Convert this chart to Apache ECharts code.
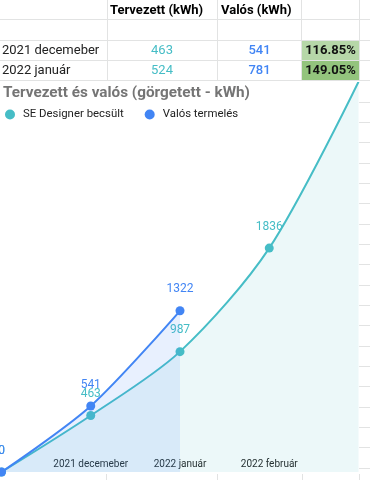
<!DOCTYPE html>
<html><head><meta charset="utf-8">
<script src="https://cdn.jsdelivr.net/npm/echarts@6/dist/echarts.min.js"></script>
<style>html,body{margin:0;padding:0;background:#fff}#c{width:370px;height:480px}</style>
</head><body><div id="c"></div>
<script>
// ---- chart data ----
const categories = ['', '2021 decemeber', '2022 január', '2022 február', '2022 március'];
const plannedCumulative = [0, 463, 987, 1836, 3200];
const actualCumulative = [0, 541, 1322];
const seriesNames = ['SE Designer becsült', 'Valós termelés'];
const chartTitle = 'Tervezett és valós (görgetett - kWh)';

// ---- table data ----
const tableHeaders = ['Tervezett (kWh)', 'Valós (kWh)'];
const tableRows = ['2021 decemeber', '2022 január'];
const tablePlanned = [463, 524];
const tableActual = [541, 781];
const tableRatio = ['116.85%', '149.05%'];

const CYAN = '#46bdc6', BLUE = '#4285f4', GRIDC = '#e2e3e3';
const FONT = 'Roboto';

const g = [];
function line(x1, y1, x2, y2) {
  g.push({type: 'line', z: 100, silent: true, shape: {x1, y1, x2, y2}, style: {stroke: GRIDC, lineWidth: 1}});
}
function text(t, x, y, fill, weight, align) {
  g.push({type: 'text', z: 102, silent: true, style: {text: String(t), x, y, fill, font: (weight || 'normal') + ' 13px ' + FONT,
    align: align || 'left', textAlign: align || 'left', verticalAlign: 'middle', textVerticalAlign: 'middle'}});
}
// table backgrounds
const ratioBg = ['#b6d7a8', '#93c47d'];
const rowTop = [41, 61];
tableRows.forEach((r, i) => {
  g.push({type: 'rect', z: 99, silent: true, shape: {x: 302, y: rowTop[i], width: 57, height: 20}, style: {fill: ratioBg[i]}});
});
// table grid lines
[19.5, 40.5, 60.5, 80.5].forEach(y => line(0, y, 370, y));
[107.5, 217.5, 301.5, 359.5].forEach(x => line(x, 0, x, 81));
// spreadsheet lines outside chart
for (let y = 101.5; y < 480; y += 20.35) line(359, Math.round(y) + 0.5, 370, Math.round(y) + 0.5);
[106.5, 217.5, 302.5, 359.5].forEach(x => line(x, 474, x, 480));
// headers
text(tableHeaders[0], 110, 11, '#000', 'bold');
text(tableHeaders[1], 221, 11, '#000', 'bold');
tableRows.forEach((r, i) => {
  const cy = rowTop[i] + 10;
  text(r, 2, cy, '#222');
  text(tablePlanned[i], 162, cy, CYAN, 'normal', 'center');
  text(tableActual[i], 259.5, cy, BLUE, '500', 'center');
  text(tableRatio[i], 330.5, cy, '#111', 'bold', 'center');
});

const chart = echarts.init(document.getElementById('c'));
const labelCommon = {show: true, position: 'top', distance: 11, fontSize: 12, fontFamily: FONT};
const lastIdx = categories.length - 1;
chart.setOption({
  animation: false,
  textStyle: {fontFamily: FONT},
  title: {text: chartTitle, left: 3, top: 86, padding: 0,
    textStyle: {fontSize: 15.3, fontWeight: 'bold', color: '#757575', fontFamily: FONT}},
  legend: {left: 5, top: 109, padding: 0, icon: 'circle', itemWidth: 10, itemHeight: 10, itemGap: 21,
    textStyle: {fontSize: 11.4, color: '#222', fontFamily: FONT, padding: [0, 0, 0, 3]},
    data: seriesNames},
  grid: {left: 1.5, right: 11.5, top: 83, bottom: 8, containLabel: false, outerBoundsMode: 'none'},
  xAxis: {type: 'category', data: categories, boundaryGap: false,
    axisLine: {show: false}, axisTick: {show: false}, splitLine: {show: false},
    axisLabel: {inside: true, margin: 3, fontSize: 10, color: '#222', fontFamily: FONT,
      textBorderColor: '#fff', textBorderWidth: 2, interval: 0,
      formatter: (v, i) => (i === 0 || i === lastIdx) ? '' : v}},
  yAxis: {type: 'value', min: 0, max: 3190, show: false, splitLine: {show: false}},
  series: [
    {name: seriesNames[0], type: 'line', smooth: 0.3, data: plannedCumulative, color: CYAN, z: 2,
      symbol: 'circle', symbolSize: 9, lineStyle: {width: 2}, areaStyle: {opacity: 0.1},
      label: Object.assign({color: CYAN}, labelCommon)},
    {name: seriesNames[1], type: 'line', smooth: 0.3, data: actualCumulative, color: BLUE, z: 3,
      symbol: 'circle', symbolSize: 9, lineStyle: {width: 2}, areaStyle: {opacity: 0.12},
      label: Object.assign({color: BLUE}, labelCommon)}
  ],
  graphic: {elements: g}
});
</script></body></html>
